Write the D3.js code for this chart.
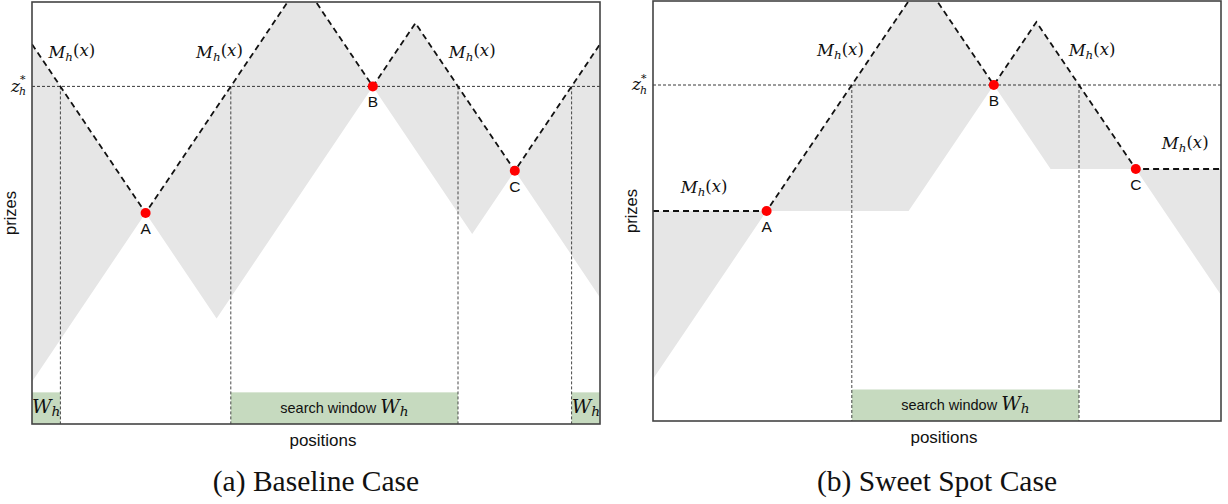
<!DOCTYPE html>
<html>
<head>
<meta charset="utf-8">
<script src="https://cdn.jsdelivr.net/npm/d3@7"></script>
<style>
  body { margin: 0; background: #fff; }
  svg { display: block; }
  .sans { font-family: 'Liberation Sans', Arial, sans-serif; fill: #111; }
  .math { font-family: 'DejaVu Serif', serif; font-style: italic; fill: #111; }
  .caption { font-family: 'Liberation Serif', 'Times New Roman', serif; fill: #111; }
</style>
</head>
<body>
<div id="chart"></div>
<script>
// Données (positions 0-100, prix 0-100)
const pointNames = ['A', 'B', 'C'];
const pointPos = [20, 60, 85];
const pointPrize = [50, 80, 60];
const zStar = 80;

// Cas de base
const baseUpperPos = [0, 20, 47.5, 60, 67.5, 85, 100];
const baseUpperPrize = [90, 50, 105, 80, 95, 60, 90];
const baseLowerPos = [0, 20, 32.5, 60, 77.5, 85, 100];
const baseLowerPrize = [10, 50, 25, 80, 45, 60, 30];
const baseWindows = [[0, 5], [35, 75], [95, 100]];
const baseWindowLabels = ['W', 'search window W', 'W'];
const baseMLabels = [[7, 88], [33, 88], [77.5, 88]];

// Cas "sweet spot"
const sweetUpperPos = [0, 20, 47.5, 60, 67.5, 85, 100];
const sweetUpperPrize = [50, 50, 105, 80, 95, 60, 60];
const sweetLowerPos = [0, 20, 45, 60, 70, 85, 100];
const sweetLowerPrize = [10, 50, 50, 80, 60, 60, 30];
const sweetWindows = [[35, 75]];
const sweetWindowLabels = ['search window W'];
const sweetMLabels = [[9, 55.5], [33, 88], [77.3, 88], [93.7, 66]];

const windowTop = 7.5;

const panels = [
    { id: 'a', frame: {x0: 32, x1: 600, y0: 2, y1: 424},
      upperPos: baseUpperPos, upperPrize: baseUpperPrize,
      lowerPos: baseLowerPos, lowerPrize: baseLowerPrize,
      windows: baseWindows, windowLabels: baseWindowLabels, mLabels: baseMLabels,
      caption: '(a) Baseline Case' },
    { id: 'b', frame: {x0: 653, x1: 1221, y0: 1, y1: 421},
      upperPos: sweetUpperPos, upperPrize: sweetUpperPrize,
      lowerPos: sweetLowerPos, lowerPrize: sweetLowerPrize,
      windows: sweetWindows, windowLabels: sweetWindowLabels, mLabels: sweetMLabels,
      caption: '(b) Sweet Spot Case' }
];

const svg = d3.select('#chart').append('svg')
    .attr('width', 1228)
    .attr('height', 504);

// M_h(x) en texte mathématique
function mathLabel(sel, base, sub, rest) {
    sel.append('tspan').text(base);
    sel.append('tspan').attr('font-size', '0.72em').attr('dy', '0.25em').text(sub);
    if (rest) {
        sel.append('tspan').attr('dy', '-0.25em').attr('font-style', 'normal').text('(');
        sel.append('tspan').text('x');
        sel.append('tspan').attr('font-style', 'normal').text(')');
    }
}

panels.forEach(p => {
    const f = p.frame;
    const x = d3.scaleLinear().domain([0, 100]).range([f.x0, f.x1]);
    const y = d3.scaleLinear().domain([0, 100]).range([f.y1, f.y0]);

    const g = svg.append('g');
    const clipId = 'clip-' + p.id;
    g.append('clipPath').attr('id', clipId)
        .append('rect')
        .attr('x', f.x0).attr('y', f.y0)
        .attr('width', f.x1 - f.x0).attr('height', f.y1 - f.y0);

    const inner = g.append('g').attr('clip-path', `url(#${clipId})`);

    const upper = p.upperPos.map((d, i) => [d, p.upperPrize[i]]);
    const lower = p.lowerPos.map((d, i) => [d, p.lowerPrize[i]]);

    // Zone grise entre M_h et la borne basse
    const poly = upper.concat(lower.slice().reverse());
    inner.append('path')
        .attr('d', d3.line().x(d => x(d[0])).y(d => y(d[1]))(poly) + 'Z')
        .attr('fill', '#e6e6e6');

    // Fenêtres de recherche
    inner.selectAll('.win')
        .data(p.windows)
        .enter().append('rect')
        .attr('x', d => x(d[0]))
        .attr('y', y(windowTop))
        .attr('width', d => x(d[1]) - x(d[0]))
        .attr('height', y(0) - y(windowTop))
        .attr('fill', '#c6dabf');

    // Ligne z*
    inner.append('line')
        .attr('x1', x(0)).attr('x2', x(100))
        .attr('y1', y(zStar)).attr('y2', y(zStar))
        .attr('stroke', '#222').attr('stroke-width', 0.9)
        .attr('stroke-dasharray', '3,2');

    // Verticales aux bornes des fenêtres
    const edges = [];
    p.windows.forEach(w => {
        if (w[0] > 0) edges.push(w[0]);
        if (w[1] < 100) edges.push(w[1]);
    });
    inner.selectAll('.edge')
        .data(edges)
        .enter().append('line')
        .attr('x1', d => x(d)).attr('x2', d => x(d))
        .attr('y1', y(zStar)).attr('y2', y(0))
        .attr('stroke', '#333').attr('stroke-width', 0.9)
        .attr('stroke-dasharray', '3,2');

    // M_h(x)
    inner.append('path')
        .datum(upper)
        .attr('d', d3.line().x(d => x(d[0])).y(d => y(d[1])))
        .attr('fill', 'none')
        .attr('stroke', '#111')
        .attr('stroke-width', 1.8)
        .attr('stroke-dasharray', '6,4');

    // Libellés de fenêtre
    p.windows.forEach((w, i) => {
        const cx = (x(w[0]) + x(w[1])) / 2;
        const t = g.append('text')
            .attr('x', cx)
            .attr('y', y(windowTop / 2))
            .attr('dy', '0.3em')
            .attr('text-anchor', 'middle');
        const lbl = p.windowLabels[i];
        if (lbl.length > 1) {
            t.append('tspan').attr('class', 'sans').attr('font-size', 14.5)
                .text('search window  ');
        }
        const m = t.append('tspan').attr('class', 'math').attr('font-size', 19);
        mathLabel(m, 'W', 'h', false);
    });

    // Points
    g.selectAll('.pt')
        .data(pointNames)
        .enter().append('circle')
        .attr('cx', (d, i) => x(pointPos[i]))
        .attr('cy', (d, i) => y(pointPrize[i]))
        .attr('r', 5)
        .attr('fill', '#ff0000');

    g.selectAll('.ptl')
        .data(pointNames)
        .enter().append('text')
        .attr('class', 'sans')
        .attr('x', (d, i) => x(pointPos[i]))
        .attr('y', (d, i) => y(pointPrize[i]) + 21)
        .attr('text-anchor', 'middle')
        .attr('font-size', 15.5)
        .text(d => d);

    // Libellés M_h(x)
    p.mLabels.forEach(l => {
        const t = g.append('text')
            .attr('class', 'math')
            .attr('x', x(l[0]))
            .attr('y', y(l[1]))
            .attr('dy', '0.3em')
            .attr('text-anchor', 'middle')
            .attr('font-size', 16.5);
        mathLabel(t, 'M', 'h', true);
    });

    // Cadre
    g.append('rect')
        .attr('x', f.x0).attr('y', f.y0)
        .attr('width', f.x1 - f.x0).attr('height', f.y1 - f.y0)
        .attr('fill', 'none')
        .attr('stroke', '#444')
        .attr('stroke-width', 1.6);

    // z*_h
    const zt = g.append('text')
        .attr('class', 'math')
        .attr('x', f.x0 - 6)
        .attr('y', y(zStar))
        .attr('dy', '0.3em')
        .attr('text-anchor', 'end')
        .attr('font-size', 17);
    zt.append('tspan').text('z');
    zt.append('tspan').attr('font-size', '0.65em').attr('dy', '0.35em').attr('dx', '-0.1em').text('h');
    zt.append('tspan').attr('font-size', '0.65em').attr('font-style', 'normal')
        .attr('dy', '-1.1em').attr('dx', '-0.55em').text('*');

    // Titres des axes
    g.append('text')
        .attr('class', 'sans')
        .attr('transform', `translate(${f.x0 - 16}, ${(f.y0 + f.y1) / 2}) rotate(-90)`)
        .attr('text-anchor', 'middle')
        .attr('font-size', 16.5)
        .text('prizes');

    g.append('text')
        .attr('class', 'sans')
        .attr('x', (f.x0 + f.x1) / 2 + 7)
        .attr('y', f.y1 + 22)
        .attr('text-anchor', 'middle')
        .attr('font-size', 17)
        .text('positions');

    // Légende
    g.append('text')
        .attr('class', 'caption')
        .attr('x', (f.x0 + f.x1) / 2)
        .attr('y', 491)
        .attr('text-anchor', 'middle')
        .attr('font-size', 29.5)
        .text(p.caption);
});
</script>
</body>
</html>
